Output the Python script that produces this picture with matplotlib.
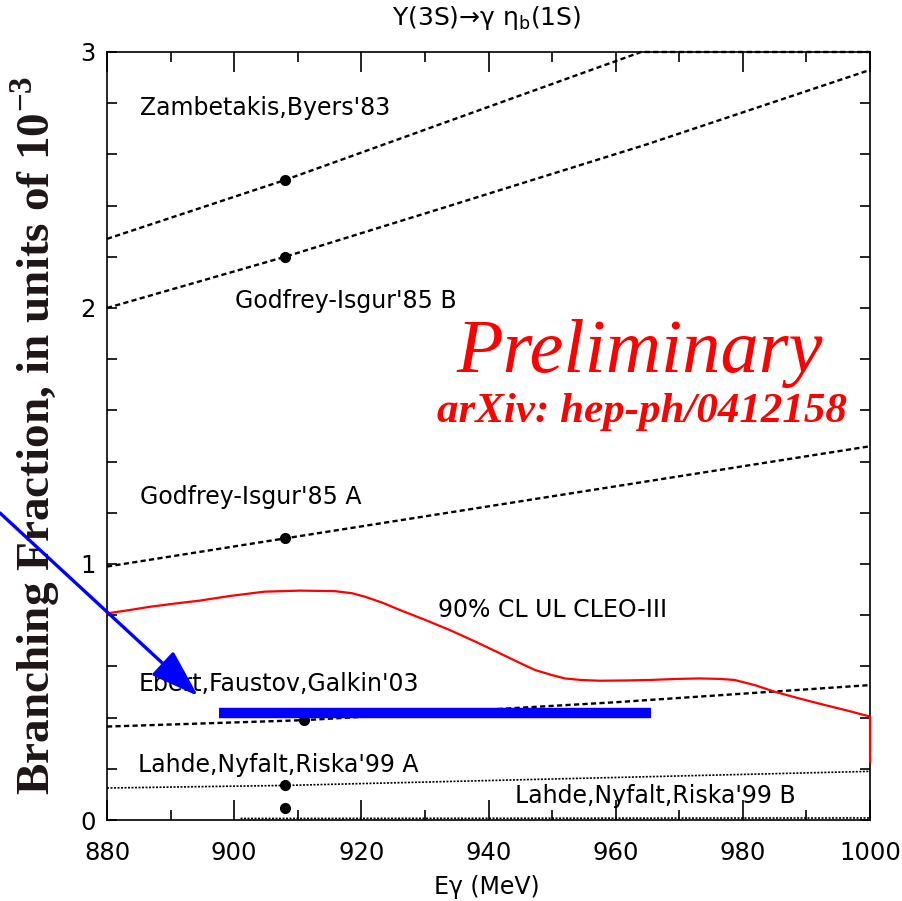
import numpy as np
import matplotlib
matplotlib.use("Agg")
import matplotlib.pyplot as plt
from matplotlib.ticker import MultipleLocator
from matplotlib.patches import FancyArrowPatch, ArrowStyle

# model predictions: photon energy (MeV) vs branching fraction (1e-3)
zb_x = [880, 908, 964, 1000]
zb_y = [2.27, 2.50, 3.00, 3.00]
giB_x = [880, 908, 934, 965, 1000]
giB_y = [2.00, 2.20, 2.40, 2.64, 2.93]
giA_x = [880, 908, 1000]
giA_y = [0.99, 1.10, 1.46]
efg_x = [880, 911, 960, 1000]
efg_y = [0.365, 0.39, 0.46, 0.527]
lnrA_x = [880, 908, 1000]
lnrA_y = [0.125, 0.135, 0.19]
lnrB_x = [901, 1000]
lnrB_y = [0.006, 0.008]

# points marked on each prediction
dot_x = [908, 908, 908, 911, 908, 908]
dot_y = [2.50, 2.20, 1.10, 0.39, 0.135, 0.047]

# CLEO-III 90% CL upper limit
ul_x = [880, 883.5, 886.8, 890.5, 894.6, 899.3, 904.8, 910.3, 915.8, 918.5,
        920.6, 923.3, 926.1, 930, 933.9, 938, 941.8, 944.8, 947.3, 950, 952,
        954.5, 957.5, 961.5, 965.4, 969.5, 973.2, 976.5, 978.7, 982, 985,
        989, 992.9, 996.5, 1000, 1000]
ul_y = [0.807, 0.82, 0.833, 0.845, 0.857, 0.875, 0.892, 0.896, 0.894, 0.886,
        0.872, 0.849, 0.82, 0.782, 0.742, 0.696, 0.651, 0.615, 0.586, 0.566,
        0.553, 0.547, 0.544, 0.545, 0.547, 0.551, 0.553, 0.551, 0.547, 0.526,
        0.501, 0.474, 0.449, 0.427, 0.404, 0.227]

# highlighted band
band_x = [897.6, 965.6]
band_y = [0.418, 0.418]

labels = [
    (885.2, 2.754, "Zambetakis,Byers'83"),
    (900.1, 2.00, "Godfrey-Isgur'85 B"),
    (885.2, 1.234, "Godfrey-Isgur'85 A"),
    (932.0, 0.793, "90% CL UL CLEO-III"),
    (884.9, 0.504, "Ebert,Faustov,Galkin'03"),
    (884.9, 0.1875, "Lahde,Nyfalt,Riska'99 A"),
    (944.2, 0.066, "Lahde,Nyfalt,Riska'99 B"),
]

fig = plt.figure(figsize=(9.03, 9.01), dpi=100)
ax = fig.add_axes([0.1185, 0.0899, 0.845, 0.8524])
ax.set_xlim(880, 1000)
ax.set_ylim(0, 3)

dash = (0, (2.2, 1.4))
for xs, ys in [(zb_x, zb_y), (giB_x, giB_y), (giA_x, giA_y), (efg_x, efg_y)]:
    ax.plot(xs, ys, color="black", lw=1.7, linestyle=dash, clip_on=False)
for xs, ys in [(lnrA_x, lnrA_y), (lnrB_x, lnrB_y)]:
    ax.plot(xs, ys, color="black", lw=1.2, linestyle=(0, (1.2, 0.9)))
ax.plot(dot_x, dot_y, "o", color="black", ms=7, zorder=4)
ax.plot(ul_x, ul_y, color="#ff0000", lw=1.6, zorder=5, clip_on=False)
ax.plot(band_x, band_y, color="#0000ff", lw=7.5, solid_capstyle="butt", zorder=6)

for x, y, s in labels:
    ax.text(x, y, s, fontsize=17, family="DejaVu Sans", va="baseline", ha="left")

ax.text(935.0, 1.75, "Preliminary", color="#ff0000", fontsize=55,
        family="Liberation Serif", style="italic", va="baseline")
ax.text(931.9, 1.555, "arXiv: hep-ph/0412158", color="#ff0000", fontsize=31,
        family="Liberation Serif", style="italic", weight="bold", va="baseline")

ax.set_xticks([880, 900, 920, 940, 960, 980, 1000])
ax.xaxis.set_minor_locator(MultipleLocator(10))
ax.set_yticks([0, 1, 2, 3])
ax.yaxis.set_minor_locator(MultipleLocator(0.2))
ax.tick_params(which="both", direction="in", top=True, right=True, width=1.2,
               labelsize=17.5)
ax.tick_params(axis="x", which="major", length=14.4, pad=15)
ax.tick_params(axis="x", which="minor", length=7.2)
ax.tick_params(axis="y", which="both", length=7.2, pad=8)
for sp in ax.spines.values():
    sp.set_linewidth(1.2)

fig.text(487 / 903, 1 - 18 / 901, "Υ(3S)→γ η$_{\\mathregular{b}}$(1S)",
         fontsize=18, ha="center", va="center")
fig.text(487 / 903, 1 - 887 / 901, "Eγ (MeV)", fontsize=17,
         ha="center", va="center")
fig.text(0.039, 0.517, "Branching Fraction, in units of 10$^{\\mathregular{-3}}$",
         rotation=90, fontsize=34, family="Liberation Serif", weight="bold",
         color="#1e1616", ha="center", va="center")

# pointer onto the band
arrow = FancyArrowPatch((0 / 903, 1 - 513 / 901), (198 / 903, 1 - 696 / 901),
                        transform=fig.transFigure,
                        arrowstyle=ArrowStyle("-|>", head_length=30, head_width=10),
                        mutation_scale=1, shrinkA=0, shrinkB=0, lw=2.4,
                        color="#0000ff", zorder=10, clip_on=False)
fig.patches.append(arrow)

fig.savefig("out.png", dpi=100)
